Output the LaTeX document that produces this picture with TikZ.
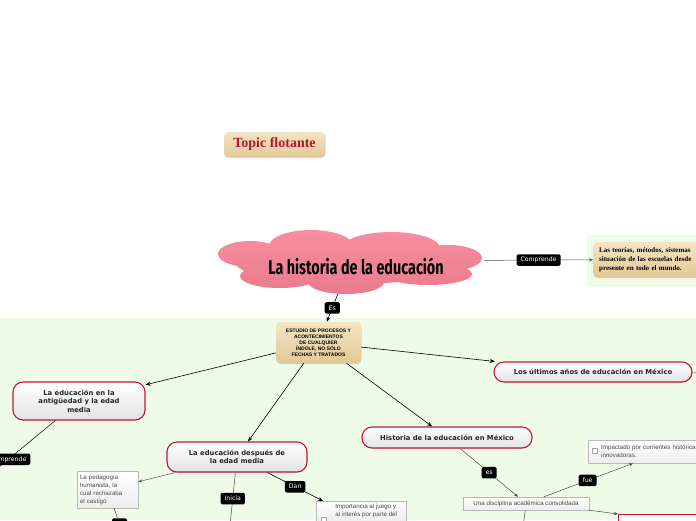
\documentclass[tikz,border=0pt]{standalone}
\usepackage{fontspec}
\setmainfont{DejaVu Sans}
\newfontfamily\titlefont[FakeStretch=0.72]{Fira Sans}
\newfontfamily\serifb{Liberation Serif}
\newfontfamily\smallsans{Liberation Sans}
\usepackage{tikz}
\usetikzlibrary{arrows.meta, shapes.geometric, shadows}
\usepackage{xcolor}
\definecolor{pagegreen}{RGB}{237, 251, 232}
\definecolor{cloudtop}{RGB}{247, 143, 160}
\definecolor{cloudbot}{RGB}{234, 122, 141}
\definecolor{pillred}{RGB}{200, 22, 52}
\definecolor{tanlight}{RGB}{244, 229, 196}
\definecolor{tandark}{RGB}{226, 200, 150}
\definecolor{topicred}{RGB}{185, 20, 50}

\begin{document}
\begin{tikzpicture}[
  x=1pt, y=-1pt,
  pill/.style={draw=pillred, line width=1.1pt, rounded corners=10pt,
               top color=white, bottom color=gray!22, align=center,
               font=\bfseries\fontsize{6.8}{8.5}\selectfont, text=black!85,
               drop shadow={opacity=0.2, shadow xshift=0.6pt, shadow yshift=-0.8pt}},
  tanbox/.style={rounded corners=4pt, top color=tanlight, bottom color=tandark,
                 drop shadow={opacity=0.3, shadow xshift=0.6pt, shadow yshift=-1pt}},
  greybox/.style={draw=gray!55, top color=white, bottom color=gray!14,
                  font=\smallsans\fontsize{6.2}{8}\selectfont, text=black!70,
                  align=left, inner sep=3pt,
                  drop shadow={opacity=0.15, shadow xshift=0.5pt, shadow yshift=-0.6pt}},
  chk/.style={draw=gray!70, fill=white, minimum size=5pt, inner sep=0pt},
  tag/.style={fill=black, text=white, font=\fontsize{6.2}{6.5}\selectfont,
              rounded corners=1.5pt, inner xsep=4pt, inner ysep=2pt,
              minimum height=11.5pt},
  arr/.style={-{Stealth[length=5pt, width=4pt]}, black, line width=0.6pt},
  link/.style={gray!60!black, line width=0.5pt},
  linkarr/.style={link, -{Stealth[length=4pt, width=3pt]}}
]
  \useasboundingbox (0,0) rectangle (696,520);
  \clip (0,0) rectangle (696,520);
  \fill[pagegreen] (0,318) rectangle (696,520);
  \fill[pagegreen] (587,235) rectangle (696,287);

  \node[tanbox, minimum width=101pt, minimum height=25pt,
        font=\serifb\bfseries\fontsize{14}{16}\selectfont, text=topicred]
    (topic) at (274.5,144.5) {Topic flotante};

  % cloud made of overlapping puffs
  \shade[top color=cloudtop, bottom color=cloudbot]
    (350,262) ellipse [x radius=115, y radius=22]
    (311,246) ellipse [x radius=42, y radius=16]
    (391,248) ellipse [x radius=49, y radius=16]
    (250,254) ellipse [x radius=32, y radius=13]
    (448,258) ellipse [x radius=34, y radius=13]
    (280,276) ellipse [x radius=40, y radius=12]
    (346,282) ellipse [x radius=38, y radius=12]
    (428,274) ellipse [x radius=44, y radius=11];
  \node[ellipse, minimum width=266pt, minimum height=66pt] (cloud) at (351,261) {};
  \node[font=\titlefont\bfseries\fontsize{20}{22}\selectfont] (title)
    at (356,266) {La historia de la educación};

  \node[tanbox, anchor=west, text width=112pt, align=left, minimum height=35pt,
        inner xsep=6pt, font=\serifb\bfseries\fontsize{7}{9}\selectfont]
    (teorias) at (593,259.5)
    {Las teorías, métodos, sistemas\\situación de las escuelas desde\\presente en todo el mundo.};

  \node[tanbox, minimum width=85pt, minimum height=41pt, align=center,
        font=\smallsans\bfseries\fontsize{5}{6}\selectfont]
    (estudio) at (318.5,342.5)
    {ESTUDIO DE PROCESOS Y\\ACONTECIMIENTOS\\DE CUALQUIER\\ÍNDOLE, NO SÓLO\\FECHAS Y TRATADOS};

  \node[pill, minimum width=132pt, minimum height=38pt] (antiguedad) at (79,401)
    {La educación en la\\antigüedad y la edad\\media};
  \node[pill, minimum width=140pt, minimum height=30pt] (despues) at (237,457)
    {La educación después de\\la edad media};
  \node[pill, minimum width=170pt, minimum height=21pt] (mexico) at (447,437.5)
    {Historia de la educación en México};
  \node[pill, minimum width=198pt, minimum height=20pt] (ultimos) at (593,372)
    {Los últimos años de educación en México};

  \node[greybox, minimum width=61pt, minimum height=37pt, text width=55pt]
    (pedagogia) at (107.5,489.5)
    {La pedagogía\\humanista, la\\cual rechazaba\\el castigo};
  \node[tag, minimum width=15pt] (pedaTag) at (119.5,524) {};
  \node[greybox, anchor=north west, minimum width=90pt] (importancia) at (316,501)
    {\hspace*{10pt}Importancia al juego y\\\hspace*{10pt}al interés por parte del};
  \node[chk] (chkA) at (323.5,520) {};
  \node[greybox, minimum width=126pt, minimum height=13pt, inner sep=1pt]
    (disciplina) at (526,503.5) {Una disciplina académica consolidada};
  \node[greybox, anchor=north west, minimum height=23pt, text width=120pt]
    (impactado) at (588,440)
    {\hspace*{10pt}Impactado por corrientes históricas\\\hspace*{10pt}innovadoras.};
  \node[chk] (chkB) at (595,451) {};
  \node[draw=pillred, line width=1pt, fill=white, anchor=north west,
        minimum width=90pt, minimum height=20pt] (razon) at (618,514) {};

  \coordinate (antigFin) at (-30,491);
  \coordinate (iniciaFin) at (228,545);
  \coordinate (discFin) at (521,545);
  \coordinate (ultimosFin) at (720,373);

  \draw[linkarr] (cloud) -- node[tag, pos=0.5] {Comprende} (teorias);
  \draw[arr] (cloud) -- node[tag, pos=0.5] {Es} (estudio);
  \draw[arr] (estudio) -- (antiguedad);
  \draw[arr] (estudio) -- (despues);
  \draw[arr] (estudio) -- (mexico);
  \draw[arr] (estudio) -- (ultimos);
  \draw[black, line width=0.5pt] (antiguedad) -- node[tag, pos=0.55] {Comprende} (antigFin);
  \draw[linkarr] (despues) -- (pedagogia);
  \draw[link] (pedagogia) -- (pedaTag);
  \draw[link] (despues) -- node[tag, pos=0.36] {Inicia} (iniciaFin);
  \draw[arr] (despues) -- node[tag, pos=0.5] {Dan} ([xshift=7pt]importancia.north west);
  \draw[linkarr] (mexico) -- node[tag, pos=0.5] {es} (disciplina);
  \draw[linkarr] (disciplina) -- node[tag, pos=0.49] {fue} ([xshift=45pt]impactado.south west);
  \draw[linkarr] (disciplina.south east) -- (razon.north west);
  \draw[link] (disciplina) -- (discFin);
  \draw[link] (ultimos) -- (ultimosFin);
\end{tikzpicture}
\end{document}
